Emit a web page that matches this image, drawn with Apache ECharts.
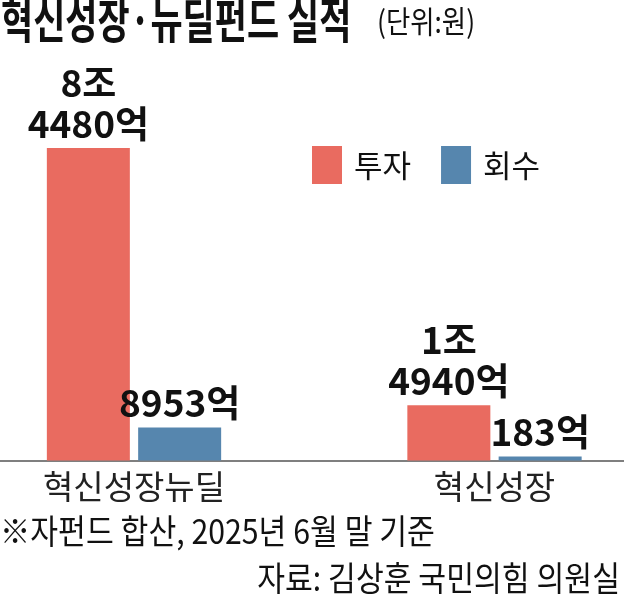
<!DOCTYPE html>
<html>
<head>
<meta charset="utf-8">
<script src="https://cdn.jsdelivr.net/npm/echarts@6/dist/echarts.min.js"></script>
<style>
html,body{margin:0;padding:0;background:#fff;}
#c{width:624px;height:598px;}
</style>
</head>
<body>
<div id="c"></div>
<script>
const categories = ['혁신성장뉴딜', '혁신성장'];
const seriesNames = ['투자', '회수'];
const investValues = [84480, 14940];   // 억 원
const recoveryValues = [8953, 183];    // 억 원
const titleText = '혁신성장·뉴딜펀드 실적';
const unitText = '(단위:원)';
const footnoteText = '※자펀드 합산, 2025년 6월 말 기준';
const sourceText = '자료: 김상훈 국민의힘 의원실';

const KR = "'Noto Sans CJK KR', sans-serif";

function fmt(v) {
  if (v >= 10000) {
    return Math.floor(v / 10000) + '조\n' + (v % 10000) + '억';
  }
  return v + '억';
}

const chart = echarts.init(document.getElementById('c'), null, {renderer: 'canvas'});
const labelStyle = {
  show: true,
  position: 'top',
  distance: 4,
  formatter: p => fmt(p.value),
  fontFamily: KR,
  fontWeight: 'bold',
  fontSize: 37,
  lineHeight: 41,
  color: '#111'
};
function txt(text, x, y, size, weight, sx, sy, align) {
  return {
    type: 'text', x: x, y: y, scaleX: sx, scaleY: sy, silent: true,
    style: {text: text, x: 0, y: 0, fill: '#111', align: align || 'left', verticalAlign: 'top',
            font: weight + ' ' + size + 'px ' + KR}
  };
}
chart.setOption({
  animation: false,
  backgroundColor: '#fff',
  graphic: [
    txt(titleText, 1, -3.5, 44, 'bold', 0.795, 1.08),
    txt(unitText, 377, 6, 30, 'normal', 0.88, 1.02),
    txt(footnoteText, 0, 514, 34, 'normal', 0.89, 1),
    txt(sourceText, 620, 561, 34, 'normal', 0.89, 1, 'right')
  ],
  legend: {
    left: 312, top: 146, padding: 0,
    itemWidth: 30, itemHeight: 38, itemGap: 30,
    icon: 'rect',
    data: seriesNames,
    textStyle: {fontFamily: KR, fontSize: 31, color: '#111', padding: [0, 0, 0, 7]}
  },
  grid: [
    {left: 134, right: 129.5, top: 90.6, bottom: 137.5, containLabel: false},
    {left: 0, right: 0, top: 90.6, bottom: 137.5, containLabel: false}
  ],
  xAxis: [
    {
      type: 'category', gridIndex: 0,
      data: categories,
      boundaryGap: false,
      axisLine: {show: false},
      axisTick: {show: false},
      axisLabel: {fontFamily: KR, fontSize: 33, color: '#222', margin: 9}
    },
    {
      type: 'category', gridIndex: 1,
      data: [''],
      axisLine: {show: true, lineStyle: {color: '#555', width: 1.5}},
      axisTick: {show: false},
      axisLabel: {show: false}
    }
  ],
  yAxis: [
    {type: 'value', gridIndex: 0, min: 0, max: 100000, show: false, splitLine: {show: false}},
    {type: 'value', gridIndex: 1, min: 0, max: 1, show: false, splitLine: {show: false}}
  ],
  series: [
    {name: seriesNames[0], type: 'bar', data: investValues, barWidth: 83, barGap: '10%',
     clip: false, z: 3,
     itemStyle: {color: '#E96B60'}, label: labelStyle},
    {name: seriesNames[1], type: 'bar', data: recoveryValues, barWidth: 83, barGap: '10%',
     clip: false, z: 3, barMinHeight: 4,
     itemStyle: {color: '#5686AE'}, label: labelStyle}
  ]
});
</script>
</body>
</html>
